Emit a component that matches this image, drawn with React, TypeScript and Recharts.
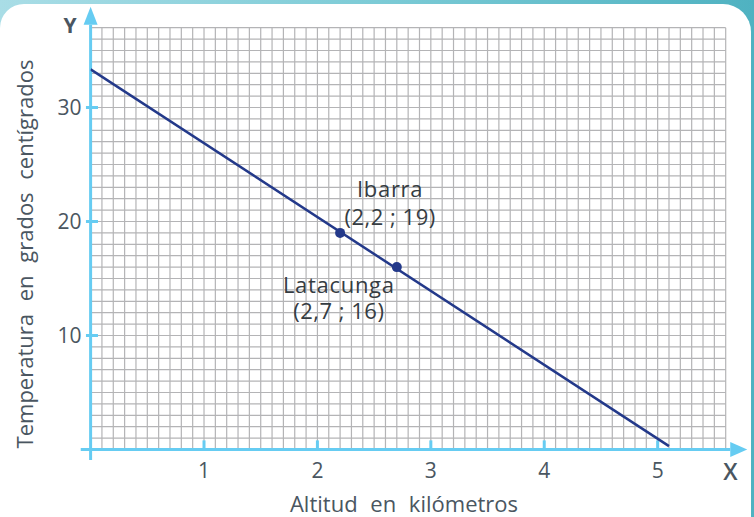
import React from 'react';
import {
  ComposedChart,
  XAxis,
  YAxis,
  CartesianGrid,
  Line,
  Scatter,
  ReferenceLine,
  ReferenceDot,
  Customized,
} from 'recharts';

// ---- data ----
const gridXTicks: number[] = Array.from({ length: 57 }, (_, i) => i / 10); // 0 .. 5.6 km (0.1 km cells)
const gridYTicks: number[] = Array.from({ length: 38 }, (_, i) => i); // 0 .. 37 °C (1 °C cells)
const xLabelTicks = [1, 2, 3, 4, 5];
const yLabelTicks = [10, 20, 30];
const trendLine = [
  { x: 0, y: 33.35 },
  { x: 5.1, y: 0.3 },
];
const cities = [
  { name: 'Ibarra', x: 2.2, y: 19, coord: '(2,2 ; 19)' },
  { name: 'Latacunga', x: 2.7, y: 16, coord: '(2,7 ; 16)' },
];

// ---- styles ----
const FONT = '"Open Sans", "Noto Sans", sans-serif';
const TEXT = '#4a5661';
const LABEL = '#353c42';
const AXIS = '#66ccf2';
const GRID = '#b4b4b6';
const NAVY = '#23398a';

const labelPlacement: Record<string, { dx: number; dy1: number; dy2: number }> = {
  Ibarra: { dx: 50, dy1: -36, dy2: -8 },
  Latacunga: { dx: -58, dy1: 26, dy2: 52 },
};

const isLabelTick = (v: number, list: number[]) => list.some((t) => Math.abs(t - v) < 1e-6);

const XTick = (props: any) => {
  const { x, y, payload } = props;
  if (!isLabelTick(payload.value, xLabelTicks)) return <g />;
  return (
    <text x={x} y={y} dy="0.71em" textAnchor="middle" fill={TEXT} fontSize={21} fontFamily={FONT}>
      {Math.round(payload.value)}
    </text>
  );
};

const YTick = (props: any) => {
  const { x, y, payload } = props;
  if (!isLabelTick(payload.value, yLabelTicks)) return <g />;
  return (
    <text x={x} y={y} dy="0.36em" textAnchor="end" fill={TEXT} fontSize={21} fontFamily={FONT}>
      {Math.round(payload.value)}
    </text>
  );
};

const CityShape = (props: any) => {
  const { cx, cy, payload } = props;
  const p = labelPlacement[payload.name];
  return (
    <g>
      <circle cx={cx} cy={cy} r={5} fill={NAVY} />
      <text
        x={cx + p.dx}
        y={cy + p.dy1}
        textAnchor="middle"
        fill={LABEL}
        fontSize={22}
        fontFamily={FONT}
        style={{ letterSpacing: '0.7px' }}
      >
        {payload.name}
      </text>
      <text
        x={cx + p.dx}
        y={cy + p.dy2}
        textAnchor="middle"
        fill={LABEL}
        fontSize={22}
        fontFamily={FONT}
        style={{ letterSpacing: '0.5px' }}
      >
        {payload.coord}
      </text>
    </g>
  );
};

const Titles = () => (
  <g fontFamily={FONT} fill={TEXT}>
    <text x={404} y={512} textAnchor="middle" fontSize={22} style={{ wordSpacing: '7px' }}>
      Altitud en kilómetros
    </text>
    <text
      transform="translate(33,254) rotate(-90)"
      textAnchor="middle"
      fontSize={22}
      style={{ wordSpacing: '7px' }}
    >
      Temperatura en grados centígrados
    </text>
    <text x={70} y={33} textAnchor="middle" fontSize={21} fontWeight={700}>
      Y
    </text>
    <text x={730.5} y={480} textAnchor="middle" fontSize={23} fontWeight={600}>
      X
    </text>
  </g>
);

const xArrow = (p: any) => (
  <polygon points={`${p.cx},${p.cy - 7.5} ${p.cx + 17},${p.cy} ${p.cx},${p.cy + 7.5}`} fill={AXIS} />
);
const yArrow = (p: any) => (
  <polygon points={`${p.cx - 7},${p.cy} ${p.cx},${p.cy - 18} ${p.cx + 7},${p.cy}`} fill={AXIS} />
);

export default function App() {
  return (
    <div
      style={{
        position: 'absolute',
        left: 0,
        top: 0,
        width: 754,
        height: 517,
        overflow: 'hidden',
        background: 'linear-gradient(90deg, #a9dde6 0%, #7ccbd6 50%, #4fb2c1 100%)',
      }}
    >
      <div
        style={{
          position: 'absolute',
          left: 0,
          top: 4,
          width: 751,
          height: 560,
          background: '#ffffff',
          borderRadius: '24px 28px 0 0',
        }}
      />
      <div style={{ position: 'absolute', left: 0, top: 0 }}>
        <ComposedChart
          width={754}
          height={517}
          margin={{ top: 27.7, right: 28.3, bottom: 37.5, left: 50.6 }}
        >
          <CartesianGrid stroke={GRID} strokeWidth={1.2} fill="none" />
          <XAxis
            type="number"
            dataKey="x"
            domain={[0, 5.6]}
            ticks={gridXTicks}
            interval={0}
            allowDataOverflow
            axisLine={false}
            tickLine={false}
            tickSize={0}
            tickMargin={13.5}
            height={30}
            tick={XTick}
          />
          <YAxis
            type="number"
            dataKey="y"
            domain={[0, 37]}
            ticks={gridYTicks}
            interval={0}
            allowDataOverflow
            axisLine={false}
            tickLine={false}
            tickSize={0}
            tickMargin={9}
            width={40}
            tick={YTick}
          />
          {/* axes */}
          <ReferenceLine
            segment={[{ x: -0.087, y: 0 }, { x: 5.64, y: 0 }]}
            stroke={AXIS}
            strokeWidth={3}
            ifOverflow="visible"
          />
          <ReferenceLine
            segment={[{ x: 0, y: -0.92 }, { x: 0, y: 37.25 }]}
            stroke={AXIS}
            strokeWidth={3}
            ifOverflow="visible"
          />
          <ReferenceDot x={5.64} y={0} ifOverflow="visible" shape={xArrow} />
          <ReferenceDot x={0} y={37.25} ifOverflow="visible" shape={yArrow} />
          {xLabelTicks.map((t) => (
            <ReferenceLine
              key={'xt' + t}
              segment={[{ x: t, y: 0 }, { x: t, y: 0.8 }]}
              stroke={AXIS}
              strokeWidth={3}
              ifOverflow="visible"
            />
          ))}
          {yLabelTicks.map((t) => (
            <ReferenceLine
              key={'yt' + t}
              segment={[{ x: -0.041, y: t }, { x: 0.065, y: t }]}
              stroke={AXIS}
              strokeWidth={3}
              ifOverflow="visible"
            />
          ))}
          <Line
            data={trendLine}
            dataKey="y"
            type="linear"
            stroke={NAVY}
            strokeWidth={2.5}
            dot={false}
            activeDot={false}
            isAnimationActive={false}
          />
          <Scatter data={cities} dataKey="y" shape={CityShape} isAnimationActive={false} />
          <Customized component={Titles} />
        </ComposedChart>
      </div>
    </div>
  );
}
